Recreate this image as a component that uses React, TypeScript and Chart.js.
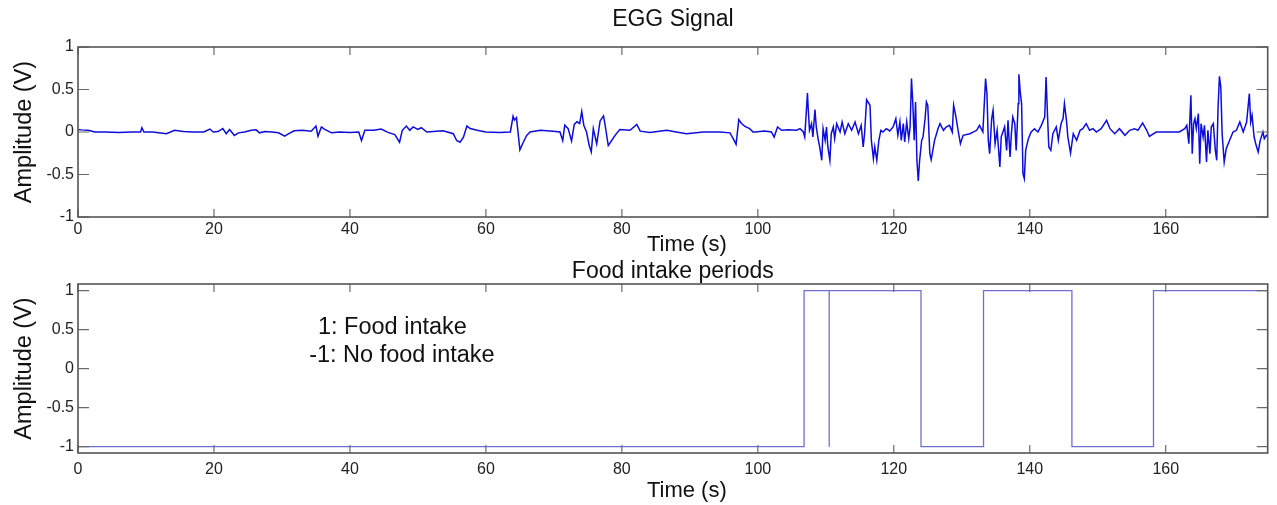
import React, { useEffect, useRef } from 'react';
import { Chart, registerables } from 'chart.js';

Chart.register(...registerables);

const FONT = '"Liberation Sans", Arial, Helvetica, sans-serif';

// ---- data -------------------------------------------------------------
const egTime = [
  0, 0.5, 1.5, 2.5, 4, 6, 8, 9.2, 9.4, 9.7, 11, 13, 14.2, 15.5, 17, 18.5, 19.4, 19.9, 20.6, 21.3,
  21.8, 22.3, 23.0, 23.6, 24.5, 25.5, 26.2, 26.7, 27.5, 28.5, 29.5, 30.4, 31.0, 31.8, 33.0, 34.3, 35.0, 35.3, 35.8, 36.3,
  37.3, 38.5, 40.0, 41.3, 41.7, 42.2, 43.5, 44.6, 45.6, 46.6, 47.3, 47.7, 48.3, 48.8, 49.3, 50.0, 50.5, 51.3, 53.7, 55.2,
  55.7, 56.2, 56.7, 57.2, 57.7, 58.7, 60.0, 62.0, 63.6, 64.0, 64.2, 64.5, 64.8, 65.0, 65.5, 66.0, 66.5, 68.0, 69.9, 70.9,
  71.3, 71.6, 72.1, 72.6, 73.0, 73.4, 73.8, 74.1, 74.4, 74.8, 75.2, 75.5, 75.8, 76.3, 76.8, 77.3, 77.5, 78.0, 78.5, 79.0,
  79.7, 81.2, 82.2, 82.7, 84.1, 86.6, 88.0, 89.5, 92.0, 94.4, 95.9, 96.4, 96.8, 97.2, 97.6, 98.1, 98.8, 99.3, 99.6, 101.0,
  102.0, 102.4, 102.9, 103.5, 104.5, 105.7, 106.2, 106.7, 106.9, 107.3, 107.4, 107.6, 107.9, 108.1, 108.4, 108.6, 108.9, 109.1, 109.4, 109.6,
  109.9, 110.1, 110.3, 110.6, 110.8, 111.1, 111.3, 111.6, 112.1, 112.4, 112.8, 113.3, 113.8, 114.3, 114.8, 115.2, 115.5, 115.7, 116.0, 116.2,
  116.5, 116.7, 117.0, 117.2, 117.5, 117.8, 118.1, 118.4, 118.9, 119.4, 119.9, 120.3, 120.6, 120.9, 121.1, 121.4, 121.6, 121.9, 122.2, 122.4,
  122.6, 122.8, 123.0, 123.2, 123.4, 123.6, 123.8, 124.1, 124.3, 124.6, 124.8, 125.0, 125.3, 125.5, 126.0, 126.5, 126.8, 127.3, 127.7, 128.2,
  128.6, 128.8, 129.1, 129.5, 129.8, 130.2, 131.2, 132.2, 132.6, 133.1, 133.5, 133.7, 133.9, 134.1, 134.4, 134.6, 134.9, 135.2, 135.6, 135.8,
  136.3, 136.6, 136.8, 137.1, 137.3, 137.5, 137.8, 138.0, 138.3, 138.4, 138.6, 138.8, 139.0, 139.2, 139.4, 139.8, 140.2, 140.7, 141.2, 141.7,
  142.2, 142.4, 142.6, 142.8, 143.1, 143.4, 143.9, 144.2, 144.6, 144.9, 145.1, 145.4, 145.6, 146.0, 146.4, 146.9, 147.4, 147.8, 148.3, 148.8,
  149.3, 149.8, 150.5, 151.3, 151.8, 152.5, 153.2, 154.0, 154.7, 155.4, 155.9, 156.6, 157.2, 157.6, 158.6, 160.0, 162.0, 162.8, 163.1, 163.4,
  163.7, 163.9, 164.1, 164.3, 164.5, 164.8, 165.0, 165.2, 165.5, 165.7, 166.0, 166.2, 166.5, 166.7, 167.0, 167.3, 167.5, 167.7, 167.9, 168.1,
  168.3, 168.6, 168.9, 169.4, 169.9, 170.4, 170.9, 171.4, 171.9, 172.3, 172.5, 172.7, 173.0, 173.3, 173.6, 173.9, 174.3, 174.5, 174.8, 175.0,
];

const egVolt = [
  0.03, 0.025, 0.02, 0.0, 0.0, -0.005, 0.0, 0.0, 0.05, 0.0, 0.0, -0.02, 0.02, 0.005, 0.0, 0.0, 0.035, 0.0, 0.005, 0.04,
  -0.02, 0.03, -0.04, -0.01, 0.0, 0.02, 0.025, -0.01, 0.005, 0.0, -0.01, -0.05, -0.02, 0.015, 0.02, 0.01, 0.07, -0.05, 0.06, 0.03,
  -0.01, 0.0, -0.005, 0.0, -0.1, 0.02, 0.02, 0.035, -0.005, -0.03, -0.12, 0.02, 0.07, 0.02, 0.06, 0.03, 0.05, 0.0, 0.015, -0.02,
  -0.1, -0.12, -0.06, 0.07, 0.04, 0.02, 0.0, -0.005, 0.0, 0.185, 0.14, 0.17, -0.06, -0.21, -0.12, -0.04, 0.0, 0.02, 0.01, 0.0,
  -0.1, 0.08, 0.04, -0.105, 0.09, 0.12, 0.1, 0.24, 0.08, 0.0, -0.16, -0.235, 0.04, -0.14, 0.13, 0.19, 0.1, -0.16, -0.1, -0.04,
  0.03, 0.02, 0.09, 0.01, -0.005, 0.02, 0.0, -0.02, 0.0, 0.0, -0.01, -0.08, -0.145, 0.146, 0.1, 0.067, 0.04, 0.0, 0.0, 0.012,
  0.0, -0.06, 0.059, 0.02, 0.027, 0.02, 0.039, 0.0, -0.059, 0.459, 0.295, 0.02, 0.098, -0.059, 0.263, 0.059, -0.098, -0.176, -0.333, 0.039,
  -0.098, 0.059, -0.176, -0.333, -0.02, 0.059, -0.078, 0.098, 0.0, 0.118, -0.02, 0.098, 0.02, 0.118, -0.02, 0.078, -0.176, -0.02, 0.38, 0.353,
  0.314, -0.098, -0.314, -0.176, -0.333, -0.098, 0.02, 0.0, 0.039, 0.012, 0.059, 0.157, -0.039, 0.118, -0.098, 0.098, -0.118, 0.118, -0.078, 0.059,
  0.628, 0.333, -0.098, 0.353, -0.333, -0.576, -0.333, -0.098, -0.059, 0.157, 0.353, 0.314, -0.255, -0.325, -0.098, 0.039, 0.098, 0.02, 0.059, 0.078,
  0.0, 0.314, 0.196, 0.0, -0.137, -0.039, -0.02, 0.02, 0.078, 0.0, 0.628, 0.451, -0.098, -0.255, 0.157, 0.255, -0.137, 0.02, -0.412, -0.059,
  0.059, -0.216, 0.137, -0.294, -0.02, 0.176, 0.098, -0.216, 0.333, 0.679, 0.471, 0.333, -0.49, -0.549, -0.216, -0.078, 0.0, 0.039, 0.0, 0.078,
  0.176, 0.647, 0.216, -0.176, -0.216, -0.02, 0.059, -0.098, 0.098, 0.157, 0.333, 0.137, -0.059, -0.247, -0.02, -0.098, 0.02, 0.039, 0.098, 0.02,
  0.039, 0.0, 0.039, 0.137, 0.039, -0.02, 0.039, -0.039, 0.02, 0.039, 0.02, 0.106, 0.02, -0.051, 0.0, 0.0, 0.0, 0.039, 0.078, -0.137,
  0.431, -0.255, 0.098, 0.157, 0.039, 0.216, -0.373, 0.098, -0.059, 0.078, -0.353, 0.02, -0.255, 0.059, 0.098, -0.216, -0.333, 0.294, 0.655, 0.53,
  -0.02, -0.353, -0.196, -0.098, 0.0, 0.02, 0.118, 0.0, 0.118, 0.451, 0.118, 0.196, -0.059, -0.157, -0.235, -0.098, 0.0, -0.078, -0.039, -0.05,
];

const foodTime = [0, 106.8, 106.8, 110.5, 110.5, 110.5, 124.0, 124.0, 133.2, 133.2, 146.2, 146.2, 158.2, 158.2, 175];
const foodState = [-1, -1, 1, 1, -1, 1, 1, -1, -1, 1, 1, -1, -1, 1, 1];

const timeTicks = [0, 20, 40, 60, 80, 100, 120, 140, 160];
const ampTicks = [-1, -0.5, 0, 0.5, 1];

const xAxisLabel = 'Time (s)';
const yAxisLabel = 'Amplitude (V)';

const noteLines = ['1: Food intake', '-1: No food intake'];
const noteX = [35.3, 34.0];
const noteY = [0.53, 0.17];

// ---- plugins ----------------------------------------------------------
const framePlugin = {
  id: 'matlabFrame',
  afterDatasetsDraw(chart: any, _args: any, opts: any) {
    const { ctx, chartArea: a, scales } = chart;
    const xs = scales.x;
    const ys = scales.y;
    ctx.save();
    ctx.strokeStyle = '#6a6a6a';
    ctx.lineWidth = 1.2;
    ctx.beginPath();
    xs.ticks.forEach((t: any) => {
      const px = xs.getPixelForValue(t.value);
      ctx.moveTo(px, a.bottom);
      ctx.lineTo(px, a.bottom - 8);
      ctx.moveTo(px, a.top);
      ctx.lineTo(px, a.top + 8);
    });
    ys.ticks.forEach((t: any) => {
      const py = ys.getPixelForValue(t.value);
      ctx.moveTo(a.left, py);
      ctx.lineTo(a.left + 11, py);
      ctx.moveTo(a.right, py);
      ctx.lineTo(a.right - 11, py);
    });
    ctx.stroke();
    ctx.strokeStyle = '#555555';
    ctx.lineWidth = 1.6;
    ctx.strokeRect(a.left, a.top, a.right - a.left, a.bottom - a.top);

    // x-axis label (MATLAB places it slightly right of centre)
    ctx.fillStyle = '#111111';
    ctx.font = `22px ${FONT}`;
    ctx.textAlign = 'center';
    ctx.textBaseline = 'middle';
    ctx.fillText(xAxisLabel, (a.left + a.right) / 2 + (opts.labelShift || 0), a.bottom + (opts.labelGap || 26));
    ctx.restore();
  },
};

const notePlugin = {
  id: 'foodNote',
  afterDatasetsDraw(chart: any) {
    const { ctx, scales } = chart;
    ctx.save();
    ctx.fillStyle = '#111111';
    ctx.font = `23.5px ${FONT}`;
    ctx.textAlign = 'left';
    ctx.textBaseline = 'middle';
    noteLines.forEach((line, i) => {
      ctx.fillText(line, scales.x.getPixelForValue(noteX[i]), scales.y.getPixelForValue(noteY[i]));
    });
    ctx.restore();
  },
};

// ---- options ----------------------------------------------------------
function buildOptions(cfg: {
  title: string;
  titlePad: { top: number; bottom: number };
  titleLH: number;
  yMin: number;
  yMax: number;
  xAxisHeight: number;
  xTickPad: number;
  labelGap: number;
}) {
  return {
    responsive: false,
    animation: false,
    events: [],
    layout: { padding: { left: 0, right: 9.3, top: 0, bottom: 0 } },
    plugins: {
      legend: { display: false },
      tooltip: { enabled: false },
      title: {
        display: true,
        fullSize: false,
        text: cfg.title,
        color: '#111111',
        font: { family: FONT, size: 23, weight: 'normal', lineHeight: cfg.titleLH },
        padding: cfg.titlePad,
      },
      matlabFrame: { labelShift: 14, labelGap: cfg.labelGap },
    },
    scales: {
      x: {
        type: 'linear',
        min: 0,
        max: 175,
        afterBuildTicks: (s: any) => {
          s.ticks = timeTicks.map((v) => ({ value: v }));
        },
        afterFit: (s: any) => {
          s.height = cfg.xAxisHeight;
        },
        grid: { display: false, drawTicks: false },
        border: { display: false },
        ticks: {
          padding: cfg.xTickPad,
          color: '#222222',
          font: { family: FONT, size: 16 },
          maxRotation: 0,
          autoSkip: false,
          callback: (v: any) => String(v),
        },
        title: { display: false },
      },
      y: {
        type: 'linear',
        min: cfg.yMin,
        max: cfg.yMax,
        afterBuildTicks: (s: any) => {
          s.ticks = ampTicks.map((v) => ({ value: v }));
        },
        afterFit: (s: any) => {
          s.width = 78;
        },
        grid: { display: false, drawTicks: false },
        border: { display: false },
        ticks: {
          padding: 4,
          color: '#222222',
          font: { family: FONT, size: 16 },
          autoSkip: false,
          callback: (v: any) => String(v),
        },
        title: {
          display: true,
          text: yAxisLabel,
          color: '#111111',
          font: { family: FONT, size: 23.5, lineHeight: 1.2 },
          padding: { top: 10, bottom: 0 },
        },
      },
    },
  } as any;
}

function App() {
  const topRef = useRef<HTMLCanvasElement | null>(null);
  const botRef = useRef<HTMLCanvasElement | null>(null);

  useEffect(() => {
    document.body.style.margin = '0';
    document.body.style.overflow = 'hidden';
    const top = new Chart(topRef.current as HTMLCanvasElement, {
      type: 'line',
      data: {
        datasets: [
          {
            data: egTime.map((t, i) => ({ x: t, y: egVolt[i] })),
            borderColor: '#0c0cdc',
            borderWidth: 1.5,
            pointRadius: 0,
            fill: false,
            tension: 0,
          },
        ],
      },
      options: buildOptions({
        title: 'EGG Signal',
        titlePad: { top: 5.5, bottom: 13.9 },
        titleLH: 1.2,
        yMin: -1,
        yMax: 1,
        xAxisHeight: 39,
        xTickPad: 3,
        labelGap: 27.5,
      }),
      plugins: [framePlugin],
    } as any);

    const bot = new Chart(botRef.current as HTMLCanvasElement, {
      type: 'line',
      data: {
        datasets: [
          {
            data: foodTime.map((t, i) => ({ x: t, y: foodState[i] })),
            borderColor: '#6e6ed2',
            borderWidth: 1.3,
            pointRadius: 0,
            fill: false,
            tension: 0,
          },
        ],
      },
      options: buildOptions({
        title: 'Food intake periods',
        titlePad: { top: 4.5, bottom: 0 },
        titleLH: 25.5 / 23,
        yMin: -1.081,
        yMax: 1.086,
        xAxisHeight: 52,
        xTickPad: 7,
        labelGap: 38,
      }),
      plugins: [framePlugin, notePlugin],
    } as any);

    return () => {
      top.destroy();
      bot.destroy();
    };
  }, []);

  return (
    <div style={{ position: 'absolute', left: 0, top: 0, width: 1277, height: 505, background: '#ffffff', overflow: 'hidden' }}>
      <canvas ref={topRef} width={1277} height={256} style={{ position: 'absolute', left: 0, top: 0, width: 1277, height: 256 }} />
      <canvas ref={botRef} width={1277} height={251} style={{ position: 'absolute', left: 0, top: 254, width: 1277, height: 251 }} />
    </div>
  );
}

export default App;
